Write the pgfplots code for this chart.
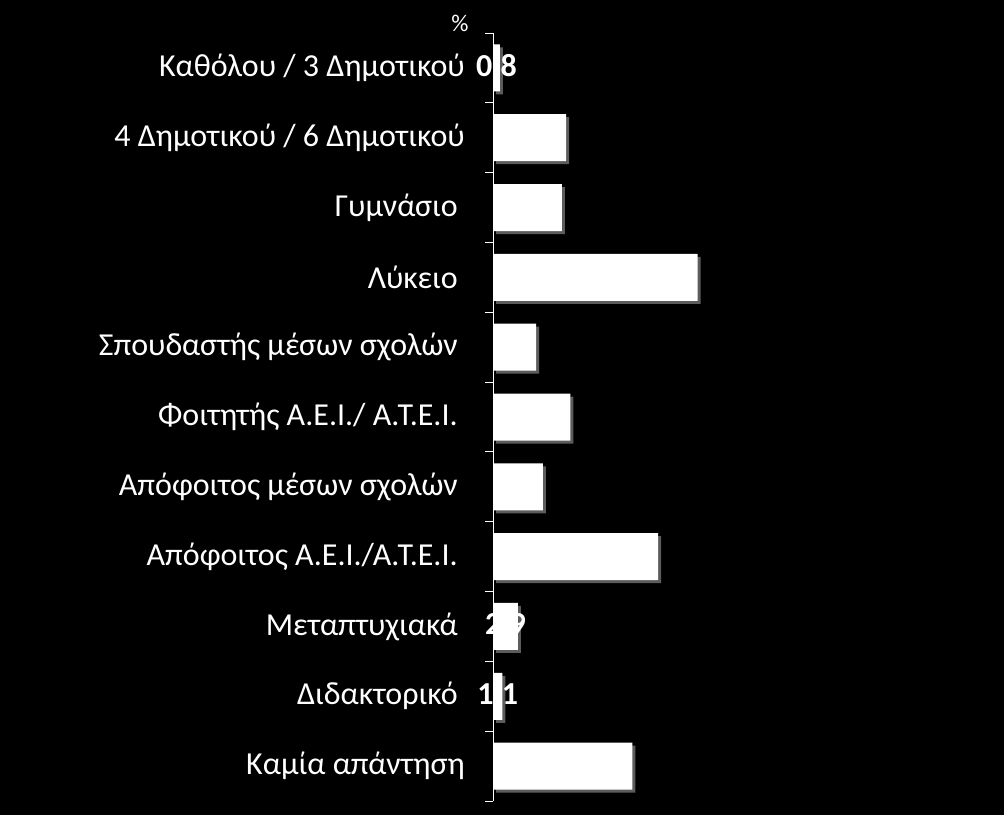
\documentclass[border=0pt]{standalone}
\usepackage{pgfplots}
\pgfplotsset{compat=1.18}
\usepackage{fontspec}
\setmainfont{Carlito}
\usetikzlibrary{shadows}

\begin{document}
\begin{tikzpicture}[x=1pt,y=1pt]
\fill[black] (0,0) rectangle (1004,815);
\begin{axis}[
    at={(493pt,14pt)}, anchor=south west,
    scale only axis,
    width=430pt, height=768pt,
    xbar, bar width=47pt,
    xmin=0, xmax=50,
    ymin=-0.5, ymax=10.5, y dir=reverse,
    hide x axis,
    axis y line*=left,
    y axis line style={white, line width=1pt},
    ytick={0,...,10},
    yticklabels={
        Καθόλου / 3 Δημοτικού,
        4 Δημοτικού / 6 Δημοτικού,
        Γυμνάσιο\hspace*{7pt},
        Λύκειο\hspace*{7pt},
        Σπουδαστής μέσων σχολών\hspace*{7pt},
        Φοιτητής Α.Ε.Ι./ Α.Τ.Ε.Ι.\hspace*{7pt},
        Απόφοιτος μέσων σχολών\hspace*{7pt},
        Απόφοιτος Α.Ε.Ι./Α.Τ.Ε.Ι.\hspace*{7pt},
        Μεταπτυχιακά\hspace*{7pt},
        Διδακτορικό\hspace*{7pt},
        Καμία απάντηση},
    major tick length=0pt,
    yticklabel style={white, font=\fontsize{32}{34}\selectfont, anchor=east, inner sep=0pt, xshift=-28pt},
    extra y ticks={-0.5,0.5,...,10.5},
    extra y tick labels={},
    extra y tick style={major tick length=8pt, tick align=outside, tick style={white, line width=1pt}},
    point meta=x,
    nodes near coords={\pgfmathprintnumber[fixed, fixed zerofill, precision=1, use comma, assume math mode=true]{\pgfplotspointmeta}},
    visualization depends on=rawx \as \rawx,
    every node near coord/.append style={white, anchor=center, inner sep=0pt,
        font=\bfseries\fontsize{32}{34}\selectfont,
        shift={(axis direction cs:-\rawx/2,0)}},
]
\addplot[fill=white, draw=none,
    drop shadow={shadow xshift=3pt, shadow yshift=-3pt, fill=gray!55}]
    coordinates {
    (0.8,0) (8.5,1) (8.0,2) (23.8,3) (5.0,4) (9.0,5)
    (5.8,6) (19.2,7) (2.9,8) (1.1,9) (16.2,10)};
\end{axis}
\node[white, font=\fontsize{24}{26}\selectfont] at (460,792) {\%};
\pgfresetboundingbox
\useasboundingbox (0,0) rectangle (1004,815);
\end{tikzpicture}
\end{document}
